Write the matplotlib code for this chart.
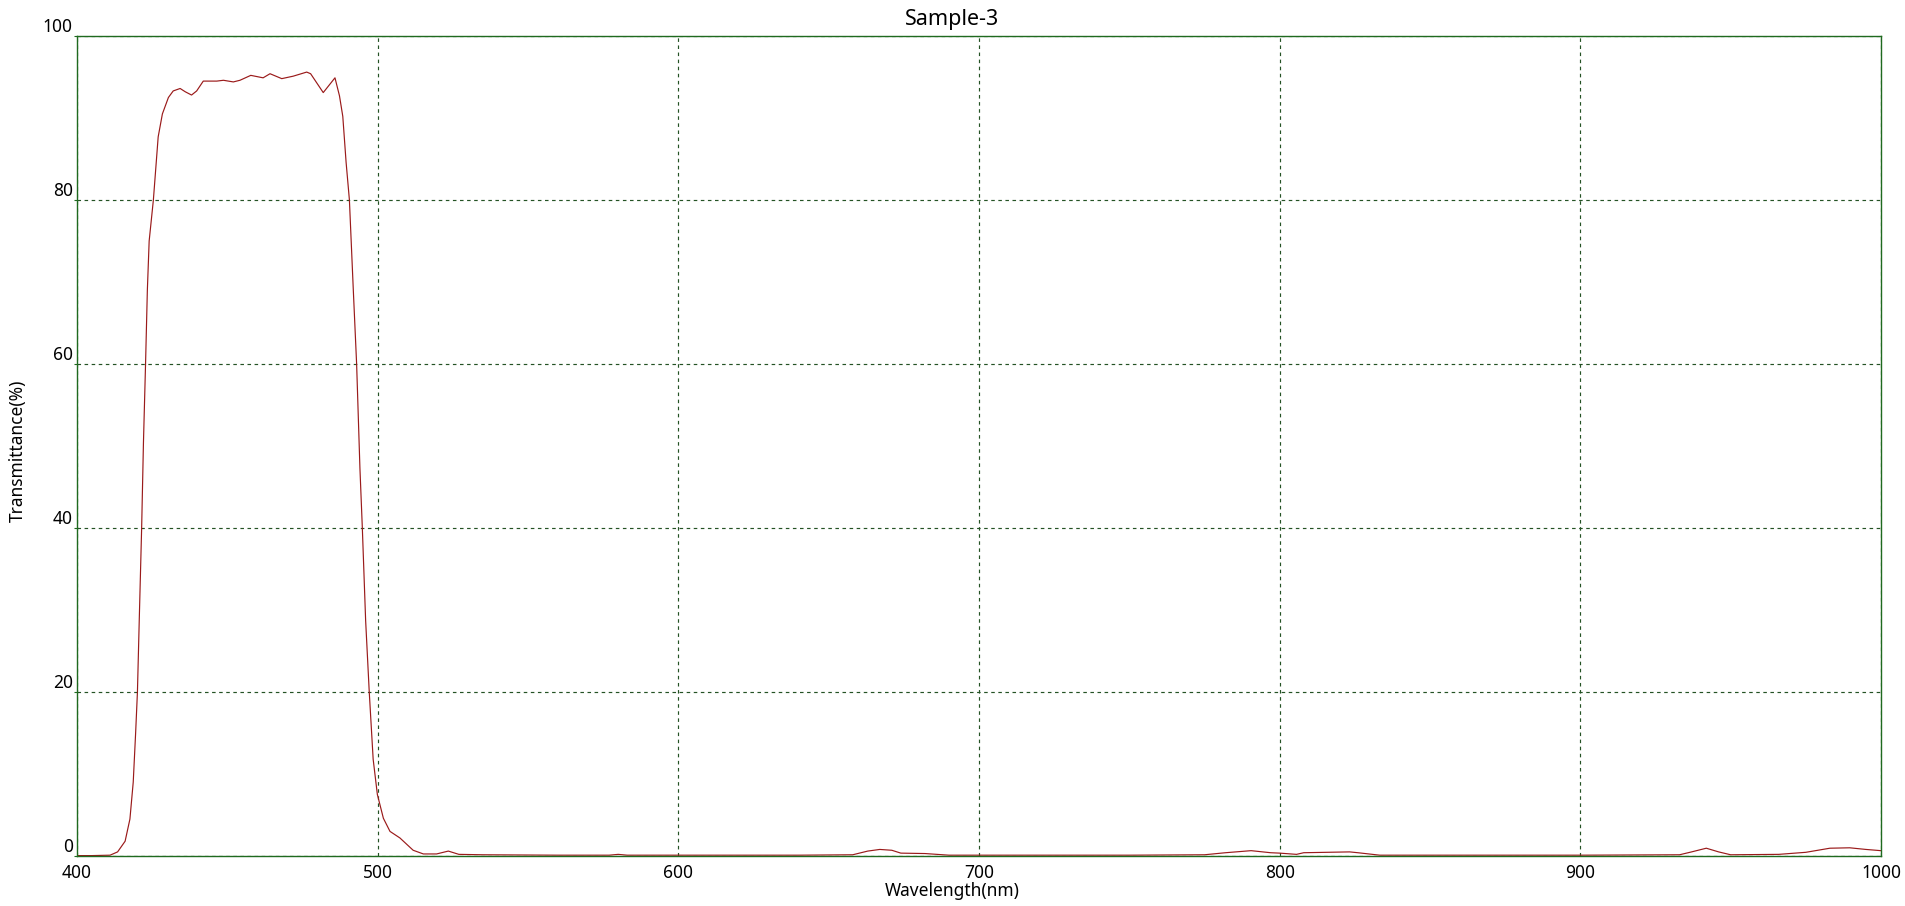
import matplotlib
matplotlib.use("Agg")
import matplotlib.pyplot as plt
import numpy as np

plt.rcParams["font.family"] = ["Noto Sans", "DejaVu Sans"]

# spectrum (wavelength in nm, transmittance in %)
wavelength = [
    400, 405, 411, 413.5, 416, 417.6, 418.7, 419.5, 420.1, 420.7, 421.5, 422.1,
    422.8, 423.4, 424.0, 425.4, 427.0, 428.4, 430.4, 432, 434.3, 436, 438.1,
    439.8, 442.0, 446.5, 448.7, 452.0, 454.2, 457.8, 461.9, 464.2, 468.1, 471.9,
    476.4, 477.7, 481.9, 485.8, 487.3, 488.4, 489.5, 490.6, 491.9, 493.0, 494.1,
    494.9, 496.0, 497.2, 498.5, 499.9, 501.9, 504.1, 507.4, 511.8, 515.2, 519.6,
    523.5, 527, 535, 560, 577, 580, 583, 600, 640, 658, 663, 667, 671, 674, 682,
    690, 700, 750, 775, 782, 790.5, 797, 800, 805.6, 808, 823.3, 826, 833.3, 850,
    900, 933, 937, 941.9, 946, 950, 966, 975, 983, 989.6, 995, 1000,
]
transmittance = [
    0.05, 0.05, 0.1, 0.5, 1.8, 4.5, 9.0, 15, 20, 28.7, 40, 50.4,
    60, 69, 75, 80, 87.7, 90.5, 92.5, 93.3, 93.6, 93.2, 92.8,
    93.3, 94.5, 94.5, 94.6, 94.4, 94.6, 95.2, 94.9, 95.4, 94.8, 95.1,
    95.6, 95.4, 93.1, 94.9, 92.7, 90.2, 84.6, 80, 69, 60, 47.3,
    40, 28.7, 20, 11.8, 7.5, 4.6, 3.0, 2.2, 0.7, 0.25, 0.25,
    0.6, 0.2, 0.15, 0.1, 0.1, 0.2, 0.1, 0.1, 0.1, 0.15, 0.6, 0.8, 0.7, 0.35, 0.3,
    0.1, 0.1, 0.1, 0.15, 0.4, 0.65, 0.4, 0.35, 0.2, 0.4, 0.5, 0.4, 0.1, 0.1,
    0.1, 0.15, 0.5, 0.95, 0.5, 0.15, 0.2, 0.45, 0.95, 1.0, 0.8, 0.65,
]
x_ticks = [400, 500, 600, 700, 800, 900, 1000]
y_ticks = [0, 20, 40, 60, 80, 100]

frame_green = "#1f6a1f"
grid_green = "#245224"
line_red = "#9a1a1a"

W, H = 1905, 906
fig = plt.figure(figsize=(W / 100, H / 100), dpi=100)
ax = fig.add_axes([77 / W, 1 - 856 / H, (1881 - 77) / W, (856 - 36) / H])

ax.plot(wavelength, transmittance, color=line_red, linewidth=0.85)

ax.set_xlim(400, 1000)
ax.set_ylim(0, 100)
ax.set_xticks(x_ticks)
ax.set_yticks(y_ticks)
ax.tick_params(axis="x", length=0, pad=6, labelsize=12.5)
ax.tick_params(axis="y", length=2, pad=1, labelsize=12.5, color=frame_green)
for lbl in ax.get_yticklabels():
    lbl.set_va("bottom")

ax.grid(True, color=grid_green, linestyle=(0, (3, 3)), linewidth=0.85)
for s in ax.spines.values():
    s.set_color(frame_green)
    s.set_linewidth(1.0)

# title and axis labels sit centred on the whole figure in the original
fig.text(0.5, 1 - 20 / H, "Sample-3", fontsize=15.5, ha="center", va="center")
fig.text(0.5, 1 - 891 / H, "Wavelength(nm)", fontsize=12.5, ha="center", va="center")
fig.text(18 / W, 1 - 451 / H, "Transmittance(%)", fontsize=12.5, rotation=90,
         ha="center", va="center")

fig.savefig("out.png", dpi=100)
